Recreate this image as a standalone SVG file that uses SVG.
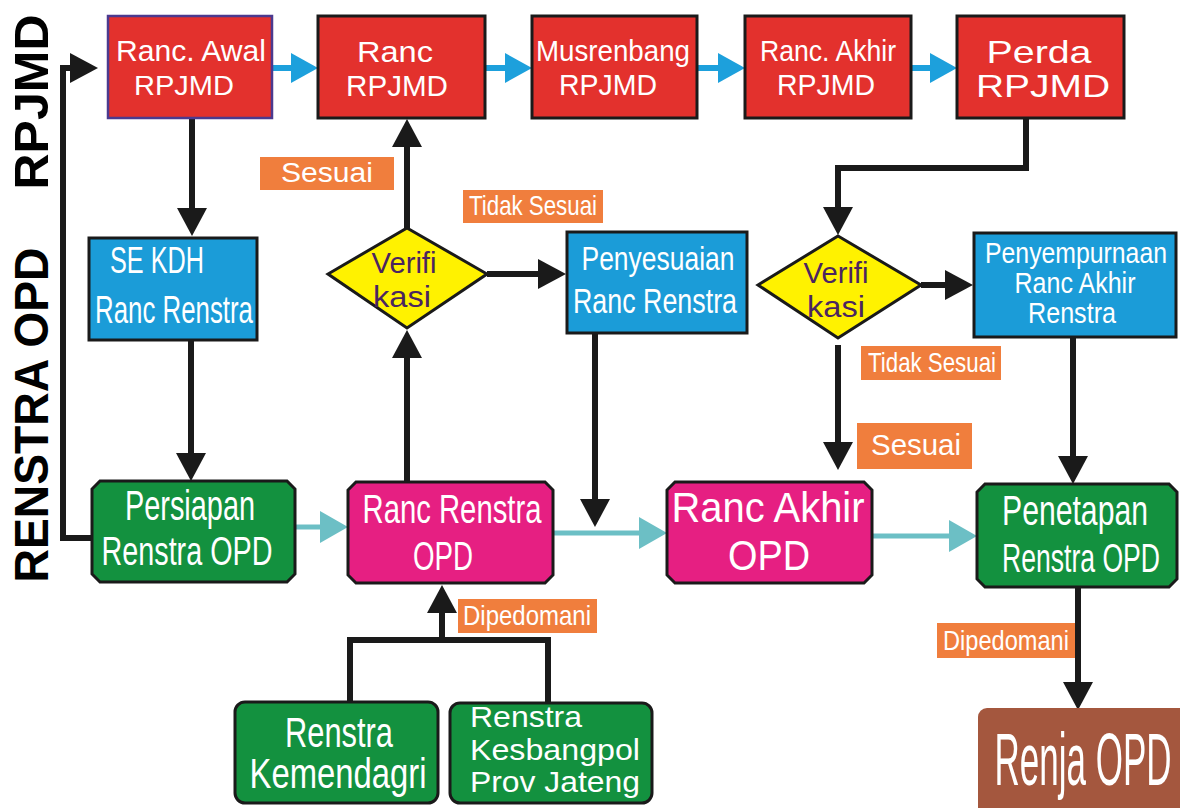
<svg xmlns="http://www.w3.org/2000/svg" width="1180" height="808" viewBox="0 0 1180 808">
<style>
text{font-family:"Liberation Sans",Arial,sans-serif;fill:#fff;text-anchor:middle}
.red{fill:#e3312d;stroke:#1a1a1a;stroke-width:3}
.blue{fill:#1b9cd8;stroke:#1a1a1a;stroke-width:3}
.green{fill:#13913f;stroke:#1a1a1a;stroke-width:3}
.mag{fill:#e61f82;stroke:#1a1a1a;stroke-width:3}
.dia{fill:#fff200;stroke:#1a1a1a;stroke-width:3}
.lab{fill:#f07e3d}
.side{fill:#000;font-weight:bold;font-size:48px}
.dt{fill:#4a2560;font-size:29px}
.lt{font-size:28px}
.st{text-anchor:start}
.blk{fill:none;stroke:#1a1a1a;stroke-width:6}
.bl{fill:none;stroke:#1da0dc;stroke-width:6}
.cy{fill:none;stroke:#6cbfc5;stroke-width:5}
</style>
<defs>
<marker id="ab" markerUnits="userSpaceOnUse" viewBox="0 0 28 30" markerWidth="28" markerHeight="30" refX="2" refY="15" orient="auto"><path d="M0,0 L28,15 L0,30 Z" fill="#1a1a1a"/></marker>
<marker id="au" markerUnits="userSpaceOnUse" viewBox="0 0 27 30" markerWidth="27" markerHeight="30" refX="2" refY="15" orient="auto"><path d="M0,0 L27,15 L0,30 Z" fill="#1da0dc"/></marker>
<marker id="ac" markerUnits="userSpaceOnUse" viewBox="0 0 28 32" markerWidth="28" markerHeight="32" refX="2" refY="16" orient="auto"><path d="M0,0 L28,16 L0,32 Z" fill="#6cbfc5"/></marker>
</defs>

<text class="side" transform="translate(48,102) rotate(-90)" textLength="175" lengthAdjust="spacingAndGlyphs">RPJMD</text>
<text class="side" transform="translate(48,415) rotate(-90)" textLength="335" lengthAdjust="spacingAndGlyphs">RENSTRA OPD</text>

<g id="connectors">
<path class="blk" d="M92 538 H63 V68 H72" marker-end="url(#ab)"/>
<path class="blk" d="M192 118 V210" marker-end="url(#ab)"/>
<path class="blk" d="M191 340 V455" marker-end="url(#ab)"/>
<path class="blk" d="M407 482 V356" marker-end="url(#ab)"/>
<path class="blk" d="M407 228 V145" marker-end="url(#ab)"/>
<path class="blk" d="M487 274 H540" marker-end="url(#ab)"/>
<path class="blk" d="M595 333 V501" marker-end="url(#ab)"/>
<path class="blk" d="M1026 118 V168 H838 V209" marker-end="url(#ab)"/>
<path class="blk" d="M921 285 H947" marker-end="url(#ab)"/>
<path class="blk" d="M838 345 V444" marker-end="url(#ab)"/>
<path class="blk" d="M1073 337 V458" marker-end="url(#ab)"/>
<path class="blk" d="M1078 587 V684" marker-end="url(#ab)"/>
<path class="blk" d="M350 703 V640 H548 V705"/>
<path class="blk" d="M442 640 V611" marker-end="url(#ab)"/>
<path class="bl" d="M272 68 H293" marker-end="url(#au)"/>
<path class="bl" d="M485 68 H507" marker-end="url(#au)"/>
<path class="bl" d="M697 68 H720" marker-end="url(#au)"/>
<path class="bl" d="M911 68 H932" marker-end="url(#au)"/>
<path class="cy" d="M296 527 H322" marker-end="url(#ac)"/>
<path class="cy" d="M553 533 H641" marker-end="url(#ac)"/>
<path class="cy" d="M872 536 H951" marker-end="url(#ac)"/>
</g>

<g id="labels">
<rect class="lab" x="260" y="157" width="134" height="33"/>
<text x="327" y="182" font-size="27" textLength="92" lengthAdjust="spacingAndGlyphs">Sesuai</text>
<rect class="lab" x="463" y="190" width="140" height="33"/>
<text class="lt" x="533" y="215" textLength="128" lengthAdjust="spacingAndGlyphs">Tidak Sesuai</text>
<rect class="lab" x="861" y="346" width="140" height="34"/>
<text class="lt" x="932" y="372" textLength="128" lengthAdjust="spacingAndGlyphs">Tidak Sesuai</text>
<rect class="lab" x="857" y="423" width="115" height="46"/>
<text x="916" y="455" font-size="30" textLength="90" lengthAdjust="spacingAndGlyphs">Sesuai</text>
<rect class="lab" x="458" y="599" width="139" height="34"/>
<text class="lt" x="527" y="625" textLength="128" lengthAdjust="spacingAndGlyphs">Dipedomani</text>
<rect class="lab" x="937" y="623" width="138" height="35"/>
<text class="lt" x="1006" y="650" textLength="126" lengthAdjust="spacingAndGlyphs">Dipedomani</text>
</g>

<g id="n-ranc-awal">
<rect x="108" y="16" width="164" height="102" fill="#e3312d" stroke="#4b3a8f" stroke-width="2.5"/>
<text x="191" y="61" font-size="30" textLength="150" lengthAdjust="spacingAndGlyphs">Ranc. Awal</text>
<text x="184" y="95" font-size="28" textLength="100" lengthAdjust="spacingAndGlyphs">RPJMD</text>
</g>
<g id="n-ranc-rpjmd">
<rect class="red" x="318" y="16" width="167" height="102"/>
<text x="395" y="62" font-size="30" textLength="76" lengthAdjust="spacingAndGlyphs">Ranc</text>
<text x="397" y="96" font-size="30" textLength="102" lengthAdjust="spacingAndGlyphs">RPJMD</text>
</g>
<g id="n-musrenbang">
<rect class="red" x="532" y="16" width="165" height="102"/>
<text x="613" y="61" font-size="29" textLength="154" lengthAdjust="spacingAndGlyphs">Musrenbang</text>
<text x="608" y="95" font-size="29" textLength="98" lengthAdjust="spacingAndGlyphs">RPJMD</text>
</g>
<g id="n-ranc-akhir">
<rect class="red" x="745" y="16" width="166" height="102"/>
<text x="828" y="61" font-size="30" textLength="136" lengthAdjust="spacingAndGlyphs">Ranc. Akhir</text>
<text x="826" y="95" font-size="29" textLength="98" lengthAdjust="spacingAndGlyphs">RPJMD</text>
</g>
<g id="n-perda">
<rect class="red" x="957" y="16" width="167" height="102"/>
<text x="1039" y="63" font-size="32" textLength="105" lengthAdjust="spacingAndGlyphs">Perda</text>
<text x="1043" y="97" font-size="32" textLength="134" lengthAdjust="spacingAndGlyphs">RPJMD</text>
</g>

<g id="n-se-kdh">
<rect class="blue" x="89" y="238" width="168" height="102"/>
<text x="157" y="273" font-size="36" textLength="94" lengthAdjust="spacingAndGlyphs">SE KDH</text>
<text x="174" y="323" font-size="38" textLength="158" lengthAdjust="spacingAndGlyphs">Ranc Renstra</text>
</g>
<g id="n-verif1">
<polygon class="dia" points="407,228 487,274 407,328 328,274"/>
<text class="dt" x="404" y="273" textLength="65" lengthAdjust="spacingAndGlyphs">Verifi</text>
<text class="dt" x="402" y="307" textLength="58" lengthAdjust="spacingAndGlyphs">kasi</text>
</g>
<g id="n-penyesuaian">
<rect class="blue" x="567" y="232" width="180" height="101"/>
<text x="658" y="270" font-size="33" textLength="153" lengthAdjust="spacingAndGlyphs">Penyesuaian</text>
<text x="655" y="313" font-size="35" textLength="164" lengthAdjust="spacingAndGlyphs">Ranc Renstra</text>
</g>
<g id="n-verif2">
<polygon class="dia" points="838,236 921,285 838,338 758,285"/>
<text class="dt" x="836" y="283" textLength="65" lengthAdjust="spacingAndGlyphs">Verifi</text>
<text class="dt" x="836" y="317" textLength="58" lengthAdjust="spacingAndGlyphs">kasi</text>
</g>
<g id="n-penyempurnaan">
<rect class="blue" x="974" y="233" width="202" height="104"/>
<text x="1076" y="263" font-size="29" textLength="182" lengthAdjust="spacingAndGlyphs">Penyempurnaan</text>
<text x="1075" y="293" font-size="29" textLength="121" lengthAdjust="spacingAndGlyphs">Ranc Akhir</text>
<text x="1072" y="323" font-size="29" textLength="88" lengthAdjust="spacingAndGlyphs">Renstra</text>
</g>

<g id="n-persiapan">
<polygon class="green" points="100,481 287,481 295,489 295,574 287,582 100,582 92,574 92,489"/>
<text x="190" y="520" font-size="42" textLength="130" lengthAdjust="spacingAndGlyphs">Persiapan</text>
<text x="187" y="565" font-size="40" textLength="171" lengthAdjust="spacingAndGlyphs">Renstra OPD</text>
</g>
<g id="n-ranc-renstra-opd">
<polygon class="mag" points="356,482 545,482 553,490 553,575 545,583 356,583 348,575 348,490"/>
<text x="452" y="523" font-size="40" textLength="179" lengthAdjust="spacingAndGlyphs">Ranc Renstra</text>
<text x="443" y="570" font-size="40" textLength="60" lengthAdjust="spacingAndGlyphs">OPD</text>
</g>
<g id="n-ranc-akhir-opd">
<polygon class="mag" points="675,482 864,482 872,490 872,575 864,583 675,583 667,575 667,490"/>
<text x="768" y="522" font-size="42" textLength="193" lengthAdjust="spacingAndGlyphs">Ranc Akhir</text>
<text x="769" y="570" font-size="42" textLength="82" lengthAdjust="spacingAndGlyphs">OPD</text>
</g>
<g id="n-penetapan">
<polygon class="green" points="985,484 1169,484 1177,492 1177,579 1169,587 985,587 977,579 977,492"/>
<text x="1075" y="525" font-size="42" textLength="146" lengthAdjust="spacingAndGlyphs">Penetapan</text>
<text x="1081" y="572" font-size="40" textLength="158" lengthAdjust="spacingAndGlyphs">Renstra OPD</text>
</g>
<g id="n-kemendagri">
<rect class="green" x="235" y="702" width="203" height="101" rx="10"/>
<text x="339" y="747" font-size="43" textLength="108" lengthAdjust="spacingAndGlyphs">Renstra</text>
<text x="338" y="788" font-size="42" textLength="177" lengthAdjust="spacingAndGlyphs">Kemendagri</text>
</g>
<g id="n-kesbangpol">
<rect class="green" x="450" y="703" width="202" height="100" rx="10"/>
<text class="st" x="470" y="727" font-size="29" textLength="112" lengthAdjust="spacingAndGlyphs">Renstra</text>
<text class="st" x="470" y="760" font-size="29" textLength="170" lengthAdjust="spacingAndGlyphs">Kesbangpol</text>
<text class="st" x="470" y="792" font-size="29" textLength="170" lengthAdjust="spacingAndGlyphs">Prov Jateng</text>
</g>
<g id="n-renja">
<rect x="978" y="708" width="212" height="108" rx="9" fill="#a4573e"/>
<text x="1083" y="785" font-size="74" textLength="177" lengthAdjust="spacingAndGlyphs">Renja OPD</text>
</g>
</svg>
